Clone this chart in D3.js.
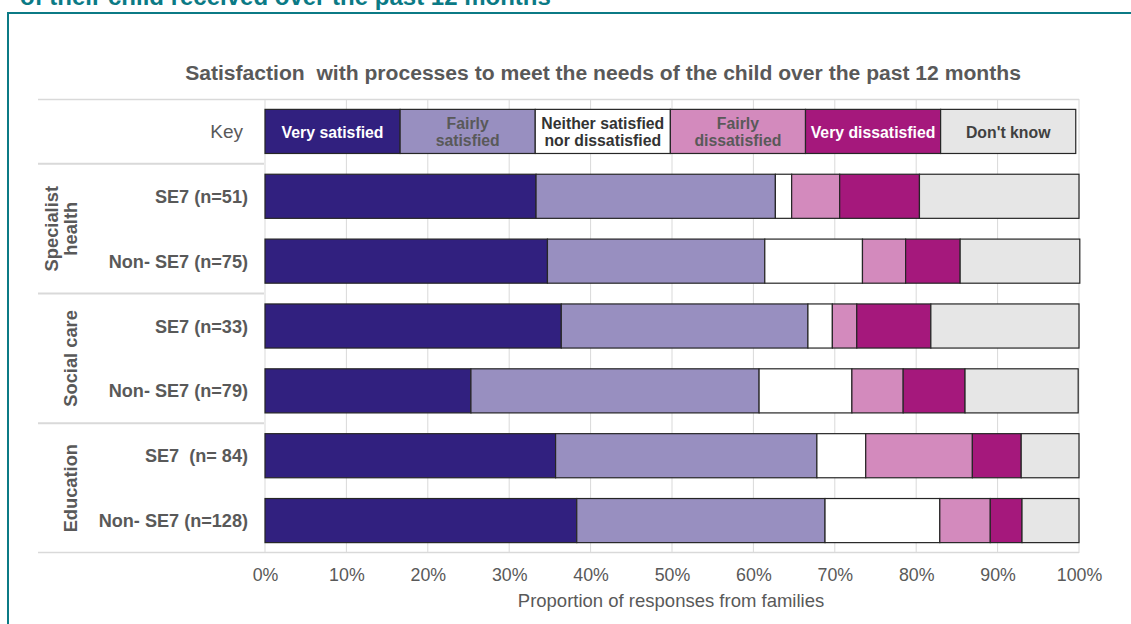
<!DOCTYPE html>
<html>
<head>
<meta charset="utf-8">
<script src="https://cdn.jsdelivr.net/npm/d3@7"></script>
<style>
  html, body { margin: 0; padding: 0; background: #fff; }
  svg { display: block; font-family: "Liberation Sans", Arial, sans-serif; }
  text { white-space: pre; }
</style>
</head>
<body>
<svg id="chart" width="1131" height="624"></svg>
<script>
// ---- data ----
const title = "Satisfaction  with processes to meet the needs of the child over the past 12 months";
const headerText = "of their child received over the past 12 months";
const xAxisTitle = "Proportion of responses from families";
const seriesNames = ["Very satisfied", "Fairly satisfied", "Neither satisfied nor dissatisfied", "Fairly dissatisfied", "Very dissatisfied", "Don't know"];
const keyLabels = [["Very satisfied"], ["Fairly", "satisfied"], ["Neither satisfied", "nor dissatisfied"], ["Fairly", "dissatisfied"], ["Very dissatisfied"], ["Don't know"]];
const rowIds = ["key", "sh_se7", "sh_non", "sc_se7", "sc_non", "ed_se7", "ed_non"];
const rowLabels = ["Key", "SE7 (n=51)", "Non- SE7 (n=75)", "SE7 (n=33)", "Non- SE7 (n=79)", "SE7  (n= 84)", "Non- SE7 (n=128)"];
const groupNames = [["Specialist", "health"], ["Social care"], ["Education"]];
const groupRows = [["sh_se7", "sh_non"], ["sc_se7", "sc_non"], ["ed_se7", "ed_non"]];
const keyValues = [16.6, 16.6, 16.6, 16.6, 16.6, 16.6];
const verySatisfied       = [33.3, 34.7, 36.4, 25.3, 35.7, 38.3];
const fairlySatisfied     = [29.4, 26.7, 30.3, 35.4, 32.1, 30.5];
const neither             = [2.0, 12.0, 3.0, 11.4, 6.0, 14.1];
const fairlyDissatisfied  = [5.9, 5.3, 3.0, 6.3, 13.1, 6.2];
const veryDissatisfied    = [9.8, 6.7, 9.1, 7.6, 6.0, 3.9];
const dontKnow            = [19.6, 14.7, 18.2, 13.9, 7.1, 7.0];
const xTicks = [0, 10, 20, 30, 40, 50, 60, 70, 80, 90, 100];

const colors = ["#31207F", "#988FC0", "#FFFFFF", "#D38ABD", "#A5187C", "#E6E6E6"];
const keyTextColors = ["#FFFFFF", "#595959", "#333333", "#595959", "#FFFFFF", "#404040"];

// ---- build table ----
const seriesData = [verySatisfied, fairlySatisfied, neither, fairlyDissatisfied, veryDissatisfied, dontKnow];
const table = rowIds.map((id, i) => {
  const o = { id };
  seriesNames.forEach((s, j) => {
    o[s] = i === 0 ? keyValues[j] : seriesData[j][i - 1];
  });
  return o;
});
const stacked = d3.stack().keys(seriesNames)(table);

const svg = d3.select("#chart");
const textGray = "#595959";

// header + frame
svg.append("text").attr("x", 20).attr("y", 5).attr("fill", "#0B7A85")
  .attr("font-weight", "bold").attr("font-size", 24).text(headerText);
svg.append("rect").attr("x", 8).attr("y", 13).attr("width", 1140).attr("height", 640)
  .attr("fill", "none").attr("stroke", "#0B7A85").attr("stroke-width", 2);

const x = d3.scaleLinear().domain([0, 100]).range([265, 1079]);
const y = d3.scaleBand().domain(rowIds).range([99, 553]).paddingInner(0.32).paddingOuter(0.16);

// title
svg.append("text").attr("x", 603).attr("y", 80).attr("text-anchor", "middle")
  .attr("fill", textGray).attr("font-weight", "bold").attr("font-size", 21.1).text(title);

// gridlines
svg.append("g").selectAll("line").data(xTicks).join("line")
  .attr("x1", d => x(d)).attr("x2", d => x(d))
  .attr("y1", 99).attr("y2", 553)
  .attr("stroke", "#D9D9D9").attr("stroke-width", 1);
svg.append("line").attr("x1", 38).attr("x2", x(100)).attr("y1", 99.5).attr("y2", 99.5)
  .attr("stroke", "#D9D9D9").attr("stroke-width", 1.5);
svg.append("line").attr("x1", 38).attr("x2", x(100)).attr("y1", 552.5).attr("y2", 552.5)
  .attr("stroke", "#D9D9D9").attr("stroke-width", 1.5);

// separators in label area
const sepYs = [y("key") + y.bandwidth() + y.step() * 0.16, ...groupRows.map(g => y(g[1]) + y.bandwidth() + y.step() * 0.16)];
svg.append("g").selectAll("line").data(sepYs.slice(0, 3)).join("line")
  .attr("x1", 38).attr("x2", 264).attr("y1", d => d).attr("y2", d => d)
  .attr("stroke", "#D9D9D9").attr("stroke-width", 2);

// bars
const layer = svg.append("g").selectAll("g").data(stacked).join("g")
  .attr("fill", (d, i) => colors[i]);
layer.selectAll("rect").data(d => d).join("rect")
  .attr("x", d => x(d[0]))
  .attr("y", d => y(d.data.id))
  .attr("width", d => x(d[1]) - x(d[0]))
  .attr("height", y.bandwidth())
  .attr("stroke", "#262626").attr("stroke-width", 1.2);

// key labels
stacked.forEach((s, i) => {
  const d = s[0];
  const cx = (x(d[0]) + x(d[1])) / 2;
  const cy = y("key") + y.bandwidth() / 2;
  const lines = keyLabels[i];
  const t = svg.append("text").attr("text-anchor", "middle").attr("fill", keyTextColors[i])
    .attr("font-weight", "bold").attr("font-size", 15.8);
  lines.forEach((ln, k) => {
    t.append("tspan").attr("x", cx)
      .attr("y", cy + 6.5 + (k - (lines.length - 1) / 2) * 17).text(ln);
  });
});

// row labels
svg.append("g").selectAll("text").data(rowIds).join("text")
  .attr("x", (d, i) => i === 0 ? 243 : 248)
  .attr("y", d => y(d) + y.bandwidth() / 2 + 6.5)
  .attr("text-anchor", "end").attr("fill", textGray)
  .attr("font-weight", (d, i) => i === 0 ? "normal" : "bold")
  .attr("font-size", (d, i) => i === 0 ? 19 : 18.1)
  .text((d, i) => rowLabels[i]);

// group labels
groupRows.forEach((g, i) => {
  const cy = (y(g[0]) + y(g[1]) + y.bandwidth()) / 2;
  const lines = groupNames[i];
  const cx = 70 - (lines.length - 1) * 19;
  const t = svg.append("text").attr("transform", `translate(${cx},${cy}) rotate(-90)`)
    .attr("text-anchor", "middle").attr("fill", textGray)
    .attr("font-weight", "bold").attr("font-size", 18.3);
  lines.forEach((ln, k) => {
    t.append("tspan").attr("x", 0)
      .attr("y", 6.5 + k * 19).text(ln);
  });
});

// x axis
const axis = svg.append("g").attr("transform", "translate(0,553)")
  .call(d3.axisBottom(x).tickValues(xTicks).tickFormat(d => d + "%").tickSize(0).tickPadding(15));
axis.select(".domain").remove();
axis.selectAll("text").attr("fill", textGray).attr("font-size", 17.8)
  .attr("font-family", "'Liberation Sans', Arial, sans-serif");

svg.append("text").attr("x", 671).attr("y", 607).attr("text-anchor", "middle")
  .attr("fill", textGray).attr("font-size", 18.5).text(xAxisTitle);
</script>
</body>
</html>
